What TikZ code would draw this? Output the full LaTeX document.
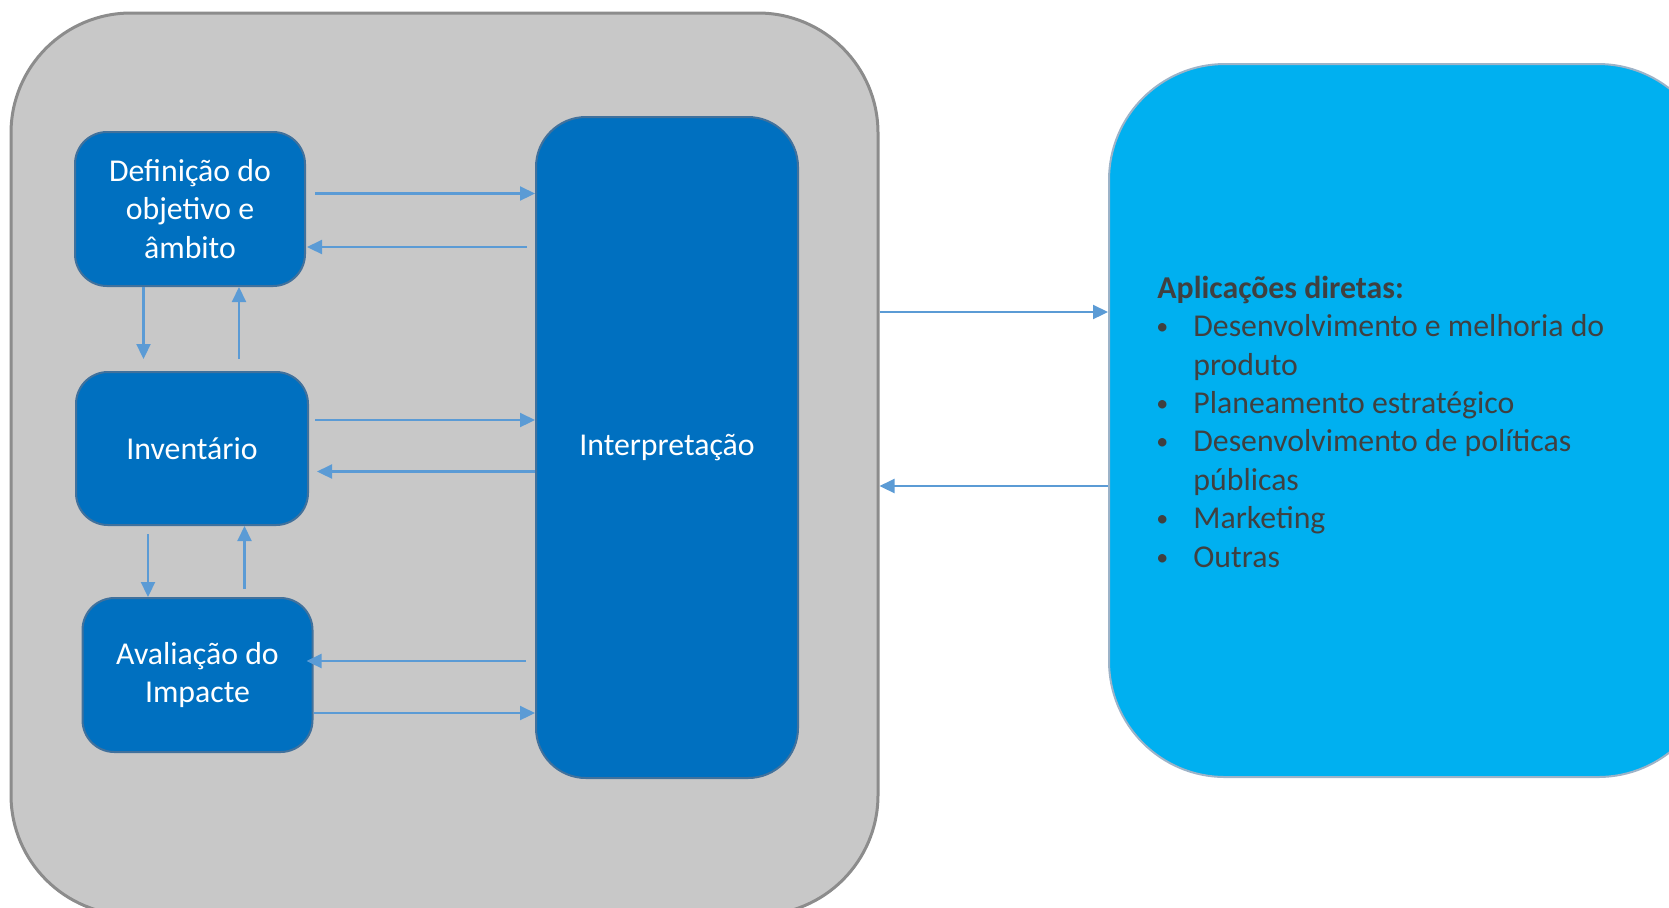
\documentclass[tikz,border=0pt]{standalone}
\usepackage{fontspec}
\setmainfont{Carlito}
\usepackage{tikz}
\usetikzlibrary{arrows.meta, positioning}

\definecolor{lcagray}{HTML}{C8C8C8}
\definecolor{framegray}{HTML}{8C8C8C}
\definecolor{stageblue}{HTML}{0070C0}
\definecolor{stageline}{HTML}{41719C}
\definecolor{arrowblue}{HTML}{5B9BD5}
\definecolor{applblue}{HTML}{00B0F0}
\definecolor{applborder}{HTML}{9DB3C8}
\definecolor{txtgray}{HTML}{404040}

\newcommand{\aplbul}{\hspace*{-0.5pt}\makebox[18.5pt][l]{\raisebox{1pt}{\fontsize{12}{12}\selectfont\textbullet}}}
\newcommand{\aplind}{\hspace*{18pt}}

\begin{document}
\begin{tikzpicture}[x=0.5pt, y=-0.5pt,
    font=\fontsize{15.9}{19.2}\selectfont,
    stage/.style={draw=stageline, line width=1pt, fill=stageblue, text=white,
        rounded corners=16pt, align=center, inner sep=0pt,
        minimum width=115pt, minimum height=77pt},
    arr/.style={draw=arrowblue, line width=1.1pt, -{Triangle[length=7.5pt,width=7pt]}}]
\clip (0,0) rectangle (1669,907);
% moldura da ACV
\node[draw=framegray, line width=1.5pt, fill=lcagray, rounded corners=60pt,
    minimum width=433.5pt, minimum height=451pt] (lca) at (444.5,464) {};

% fases
\node[stage] (def) at (190,209) {Definição do\\objetivo e\\âmbito};
\node[stage, minimum width=116pt, minimum height=76.5pt] (inv) at (192,448.5) {Inventário};
\node[stage] (ava) at (197.5,675) {Avaliação do\\Impacte};
\node[stage, minimum width=131pt, minimum height=330.5pt, rounded corners=25pt] (int) at (667,447.5) {Interpretação};

% aplicacoes
\node[draw=applborder, line width=1pt, fill=applblue, rounded corners=58pt,
    minimum width=302.5pt, minimum height=356.5pt] (apl) at (1411.5,420.5) {};
\node[text=txtgray, align=left, anchor=north west, inner sep=0pt] (lista) at (1157,275.5) {%
    \textbf{Aplicações diretas:}\\
    \aplbul Desenvolvimento e melhoria do\\
    \aplind produto\\
    \aplbul Planeamento estratégico\\
    \aplbul Desenvolvimento de políticas\\
    \aplind públicas\\
    \aplbul Marketing\\
    \aplbul Outras};

% setas entre fases
\draw[arr, shorten <=4.5pt] (def.east |- 0,193.5) -- (int.west |- 0,193.5);
\draw[arr, shorten <=4pt, shorten >=0.5pt] (int.west |- 0,247) -- (def.east |- 0,247);
\draw[arr, shorten <=3pt] (inv.east |- 0,420) -- (int.west |- 0,420);
\draw[arr, shorten >=4pt] (int.west |- 0,471.5) -- (inv.east |- 0,471.5);
\draw[arr, shorten <=4.5pt, shorten >=-3.5pt] (int.west |- 0,661) -- (ava.east |- 0,661);
\draw[arr] (ava.east |- 0,713) -- (int.west |- 0,713);

\draw[arr, shorten >=6pt] (def.south -| 143.5,0) -- (inv.north -| 143.5,0);
\draw[arr, shorten <=6pt] (inv.north -| 239,0) -- (def.south -| 239,0);
\draw[arr, shorten <=4pt] (inv.south -| 148,0) -- (ava.north -| 148,0);
\draw[arr, shorten <=4pt] (ava.north -| 244.5,0) -- (inv.south -| 244.5,0);

% ligacao com as aplicacoes
\draw[arr] (lca.east |- 0,312) -- (apl.west |- 0,312);
\draw[arr] (apl.west |- 0,486) -- (lca.east |- 0,486);
\end{tikzpicture}
\end{document}
